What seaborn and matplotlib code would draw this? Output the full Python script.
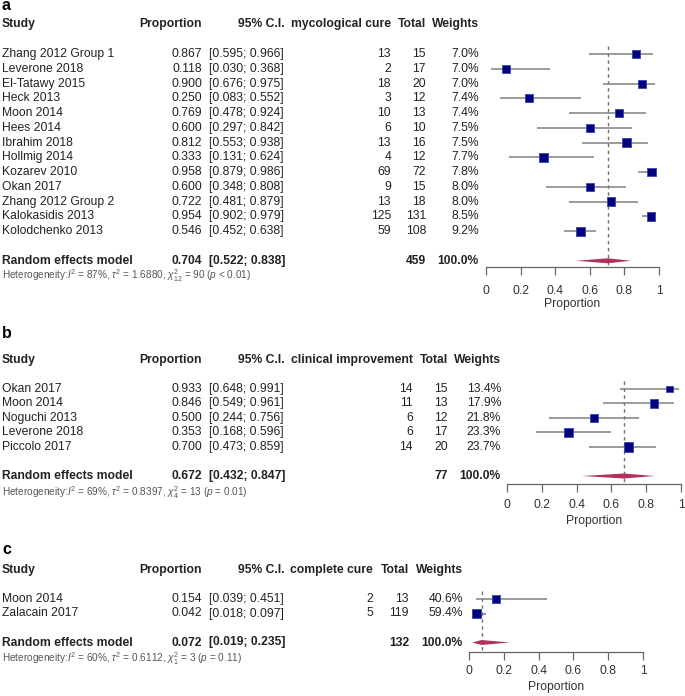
import matplotlib
matplotlib.use("Agg")
import matplotlib.pyplot as plt
import matplotlib.transforms as mtransforms
import numpy as np
import pandas as pd
import seaborn as sns

# ---- data ----
a_study = ["Zhang 2012 Group 1", "Leverone 2018", "El-Tatawy 2015", "Heck 2013", "Moon 2014",
           "Hees 2014", "Ibrahim 2018", "Hollmig 2014", "Kozarev 2010", "Okan 2017",
           "Zhang 2012 Group 2", "Kalokasidis 2013", "Kolodchenko 2013"]
a_prop = [0.867, 0.118, 0.900, 0.250, 0.769, 0.600, 0.812, 0.333, 0.958, 0.600, 0.722, 0.954, 0.546]
a_lo = [0.595, 0.030, 0.676, 0.083, 0.478, 0.297, 0.553, 0.131, 0.879, 0.348, 0.481, 0.902, 0.452]
a_hi = [0.966, 0.368, 0.975, 0.552, 0.924, 0.842, 0.938, 0.624, 0.986, 0.808, 0.879, 0.979, 0.638]
a_events = [13, 2, 18, 3, 10, 6, 13, 4, 69, 9, 13, 125, 59]
a_total = [15, 17, 20, 12, 13, 10, 16, 12, 72, 15, 18, 131, 108]
a_weight = [7.0, 7.0, 7.0, 7.4, 7.4, 7.5, 7.5, 7.7, 7.8, 8.0, 8.0, 8.5, 9.2]
a_pooled = (0.704, 0.522, 0.838)
a_het = r"Heterogeneity:$I^2$ = 87%, $\tau^2$ = 1.6880, $\chi^2_{12}$ = 90 ($p$ < 0.01)"

b_study = ["Okan 2017", "Moon 2014", "Noguchi 2013", "Leverone 2018", "Piccolo 2017"]
b_prop = [0.933, 0.846, 0.500, 0.353, 0.700]
b_lo = [0.648, 0.549, 0.244, 0.168, 0.473]
b_hi = [0.991, 0.961, 0.756, 0.596, 0.859]
b_events = [14, 11, 6, 6, 14]
b_total = [15, 13, 12, 17, 20]
b_weight = [13.4, 17.9, 21.8, 23.3, 23.7]
b_pooled = (0.672, 0.432, 0.847)
b_het = r"Heterogeneity:$I^2$ = 69%, $\tau^2$ = 0.8397, $\chi^2_{4}$ = 13 ($p$ = 0.01)"

c_study = ["Moon 2014", "Zalacain 2017"]
c_prop = [0.154, 0.042]
c_lo = [0.039, 0.018]
c_hi = [0.451, 0.097]
c_events = [2, 5]
c_total = [13, 119]
c_weight = [40.6, 59.4]
c_pooled = (0.072, 0.019, 0.235)
c_het = r"Heterogeneity:$I^2$ = 60%, $\tau^2$ = 0.6112, $\chi^2_{1}$ = 3 ($p$ = 0.11)"

ticks = [0, 0.2, 0.4, 0.6, 0.8, 1]
tick_labels = ["0", "0.2", "0.4", "0.6", "0.8", "1"]

# ---- style ----
sns.set_theme(style="white")
plt.rcParams["font.family"] = ["Liberation Sans", "DejaVu Sans"]
plt.rcParams["mathtext.fontset"] = "custom"
plt.rcParams["mathtext.rm"] = "Liberation Sans"
plt.rcParams["mathtext.it"] = "Liberation Sans:italic"
plt.rcParams["mathtext.bf"] = "Liberation Sans:bold"

W, H = 685, 696
fig = plt.figure(figsize=(W / 100, H / 100), dpi=100)

FS = 8.7
TXT = "#222222"
NAVY = "#000080"
DIAM = "#B0305E"
GREY = "#808080"


def panel(label, event_name, study, prop, lo, hi, events, total, weight, pooled, het,
          cols, fx0, fx1, header_px, first_px, sp, axis_px, tick_px, xlab_px, label_px):
    df = pd.DataFrame({"study": study, "prop": prop, "lo": lo, "hi": hi,
                       "events": events, "total": total, "weight": weight})
    n = len(df)
    df["row"] = np.arange(n)
    top_px = header_px - 10
    ax = fig.add_axes([fx0 / W, 1 - axis_px / H, (fx1 - fx0) / W, (axis_px - top_px) / H])
    ax.set_xlim(0, 1)
    ax.set_ylim((axis_px - first_px) / sp, (top_px - first_px) / sp)
    ax.patch.set_alpha(0)
    for s in ["top", "left", "right"]:
        ax.spines[s].set_visible(False)
    ax.spines["bottom"].set_color("#666666")
    ax.spines["bottom"].set_linewidth(0.9)
    ax.set_yticks([])
    ax.set_xticks(ticks)
    ax.set_xticklabels(tick_labels)
    pad = (tick_px - axis_px - 7.5 - 7) * 0.72
    ax.tick_params(axis="x", bottom=True, direction="out", length=5.5, width=0.9,
                   color="#666666", labelcolor="#333333", labelsize=FS, pad=pad)

    pooled_row = n + 1
    # reference dashed line at pooled estimate
    ax.vlines(pooled[0], -0.55, ax.get_ylim()[0], color="#707070", lw=1.0,
              linestyles=(0, (2.5, 2.5)), zorder=1)
    # confidence intervals
    ax.hlines(df["row"], df["lo"], df["hi"], color=GREY, lw=1.1, zorder=2)
    # squares, area proportional to weight
    wmax = df["weight"].max()
    smax = 44
    sns.scatterplot(data=df, x="prop", y="row", size="weight",
                    sizes=(smax * df["weight"].min() / wmax, smax),
                    size_norm=(df["weight"].min(), wmax),
                    marker="s", color=NAVY, linewidth=0.6, edgecolor="#3548a8",
                    legend=False, ax=ax, zorder=3, clip_on=False)
    # pooled diamond
    est, plo, phi = pooled
    h = 2.5 / sp
    ax.fill([plo, est, phi, est], [pooled_row, pooled_row - h, pooled_row, pooled_row + h],
            color=DIAM, lw=0, zorder=3)
    ax.set_xlabel("")
    ax.set_ylabel("")

    tr = mtransforms.blended_transform_factory(fig.transFigure, ax.transData)

    def t(xpx, row, s, ha="left", bold=False, size=FS, color=TXT):
        ax.text(xpx / W, row, s, transform=tr, ha=ha, va="center", fontsize=size,
                fontweight="bold" if bold else "normal", color=color)

    c_prop, c_ci, c_ev, c_tot, c_w = cols
    hdr = -2
    t(2, hdr, "Study", bold=True)
    t(c_prop, hdr, "Proportion", ha="right", bold=True)
    t(285, hdr, "95% C.I.", ha="right", bold=True)
    t(c_ev, hdr, event_name, ha="right", bold=True)
    t(c_tot, hdr, "Total", ha="right", bold=True)
    t(c_w, hdr, "Weights", ha="right", bold=True)
    for _, r in df.iterrows():
        t(2, r["row"], r["study"])
        t(c_prop, r["row"], f"{r['prop']:.3f}", ha="right")
        t(c_ci, r["row"], f"[{r['lo']:.3f}; {r['hi']:.3f}]")
        t(c_ev, r["row"], f"{int(r['events'])}", ha="right")
        t(c_tot, r["row"], f"{int(r['total'])}", ha="right")
        t(c_w, r["row"], f"{r['weight']:.1f}%", ha="right")
    t(2, pooled_row, "Random effects model", bold=True)
    t(c_prop, pooled_row, f"{est:.3f}", ha="right", bold=True)
    t(c_ci, pooled_row, f"[{plo:.3f}; {phi:.3f}]", bold=True)
    t(c_tot, pooled_row, f"{int(df['total'].sum())}", ha="right", bold=True)
    t(c_w, pooled_row, "100.0%", ha="right", bold=True)
    t(2, (het[1] - first_px) / sp, het[0], size=7.2, color="#555555")
    t(2, (label_px - first_px) / sp, label, bold=True, size=11.5, color="#000000")
    fig.text((fx0 + fx1) / 2 / W, 1 - xlab_px / H, "Proportion", ha="center", va="center",
             fontsize=FS, color="#333333")


panel("a", "mycological cure", a_study, a_prop, a_lo, a_hi, a_events, a_total, a_weight,
      a_pooled, (a_het, 276), (202, 209, 391, 426, 479), 486, 659,
      25, 54, 14.77, 267, 292, 304, 6)
panel("b", "clinical improvement", b_study, b_prop, b_lo, b_hi, b_events, b_total, b_weight,
      b_pooled, (b_het, 493), (202, 209, 413, 448, 501), 507, 681,
      359, 389, 14.5, 484, 506, 521, 334)
panel("c", "complete cure", c_study, c_prop, c_lo, c_hi, c_events, c_total, c_weight,
      c_pooled, (c_het, 659), (202, 209, 373, 409, 463), 469, 643,
      570, 599, 14.5, 652, 672, 687, 550)

fig.savefig("out.png", dpi=100)
